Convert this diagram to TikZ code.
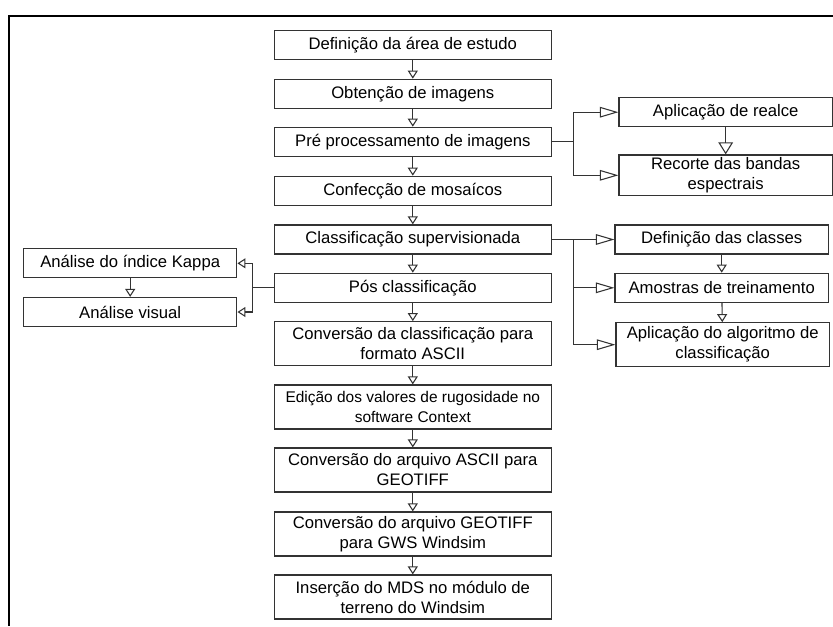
\documentclass[tikz,border=0pt]{standalone}
\usepackage{fontspec}
\setmainfont{Liberation Sans}
\usetikzlibrary{arrows.meta}

\begin{document}
\begin{tikzpicture}[x=0.75pt, y=-0.75pt,
    box/.style={draw=black!80, line width=0.9pt, rectangle, align=center, inner sep=1pt,
        font=\fontsize{12.5}{15}\selectfont},
    main/.style={box, minimum width=208pt, minimum height=21.8pt},
    side/.style={box, minimum width=160pt, minimum height=21.8pt},
    arr/.style={draw=black!80, line width=0.8pt, -{Triangle[open, length=6pt, width=7.5pt]}},
    bigarr/.style={draw=black!80, line width=0.8pt, -{Triangle[open, length=14pt, width=8pt]}}]

\useasboundingbox (0,0) rectangle (833,626);
\draw [line width=0.9pt] (833,16) -- (9,16) -- (9,626);

\node [main] (area) at (412.8,45.3) {Definição da área de estudo};
\node [main] (obt) at (412.8,93.8) {Obtenção de imagens};
\node [main] (pre) at (412.8,141.8) {Pré processamento de imagens};
\node [main] (mos) at (412.8,190.8) {Confecção de mosaícos};
\node [main] (sup) at (412.8,239.5) {Classificação supervisionada};
\node [main] (pos) at (412.8,287.8) {Pós classificação};
\node [main, minimum height=33pt] (ascii) at (412.8,343.7) {Conversão da classificação para\\formato ASCII};
\node [main, minimum height=33pt, font=\fontsize{11.6}{15}\selectfont] (ctx) at (412.8,407) {Edição dos valores de rugosidade no\\software Context};
\node [main, minimum height=33pt] (geo) at (412.8,470) {Conversão do arquivo ASCII para\\GEOTIFF};
\node [main, minimum height=33pt] (gws) at (412.8,534) {Conversão do arquivo GEOTIFF\\para GWS Windsim};
\node [main, minimum height=33pt] (mds) at (412.8,597) {Inserção do MDS no módulo de\\terreno do Windsim};

\node [side] (kappa) at (130.2,263.3) {Análise do índice Kappa};
\node [side] (visual) at (130.2,312) {Análise visual};

\node [side] (realce) at (725.7,112.2) {Aplicação de realce};
\node [side, minimum height=30.5pt] (recorte) at (725.7,175.3) {Recorte das bandas\\espectrais};
\node [side] (classes) at (721.7,239.5) {Definição das classes};
\node [side] (amostras) at (721.7,287.8) {Amostras de treinamento};
\node [side, minimum height=33pt] (algo) at (722.7,344.7) {Aplicação do algoritmo de\\classificação};

\draw [arr] (area) -- (obt);
\draw [arr] (obt) -- (pre);
\draw [arr] (pre) -- (mos);
\draw [arr] (mos) -- (sup);
\draw [arr] (sup) -- (pos);
\draw [arr] (pos) -- (ascii);
\draw [arr] (ascii) -- (ctx);
\draw [arr] (ctx) -- (geo);
\draw [arr] (geo) -- (gws);
\draw [arr] (gws) -- (mds);

\draw [bigarr] (pre.east) -- ++(21.6,0) |- (realce.west);
\draw [bigarr] (pre.east) -- ++(21.6,0) |- (recorte.west);
\draw [draw=black!80, line width=0.8pt, -{Triangle[open, length=9pt, width=11pt]}] (realce) -- (recorte);

\draw [bigarr] (sup.east) -- (classes.west);
\draw [bigarr] (sup.east) -- ++(21.5,0) |- (amostras.west);
\draw [bigarr] (sup.east) -- ++(21.5,0) |- (algo.west);
\draw [arr] (classes) -- (amostras);
\draw [arr] (amostras) -- (algo);

\draw [arr] (pos.west) -- ++(-21,0) |- (kappa.east);
\draw [arr] (pos.west) -- ++(-21,0) |- (visual.east);
\draw [arr] (kappa) -- (visual);

\end{tikzpicture}
\end{document}
